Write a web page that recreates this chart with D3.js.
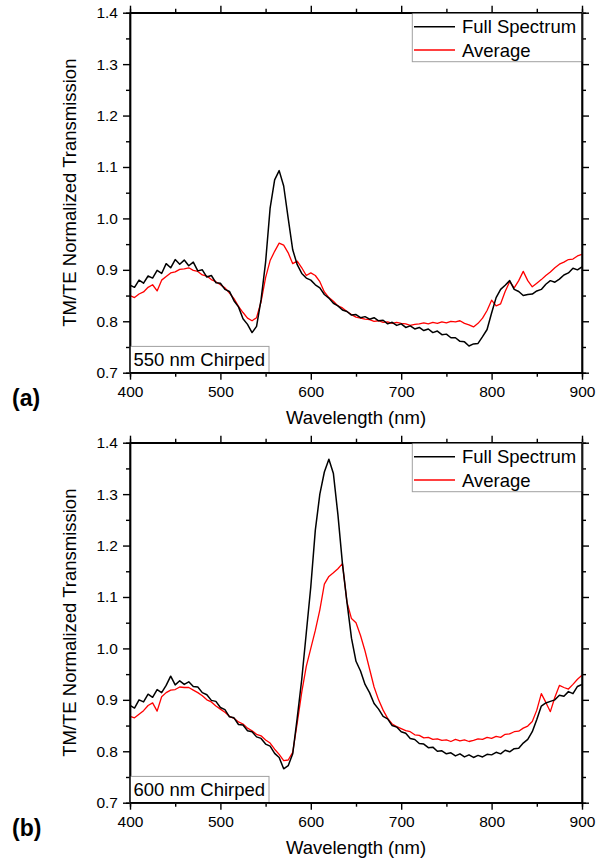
<!DOCTYPE html>
<html>
<head>
<meta charset="utf-8">
<script src="https://cdn.jsdelivr.net/npm/d3@7"></script>
<style>
  html, body { margin: 0; padding: 0; background: #fff; }
  svg { display: block; font-family: "Liberation Sans", Arial, sans-serif; }
</style>
</head>
<body>
<svg id="chart" width="597" height="863"></svg>
<script>
// Wavelength grid shared by every series (nm, 5 nm step)
const wavelengths = d3.range(400, 901, 5);

// Panel (a): 550 nm chirped grating
const fullSpectrumA = [
  0.870, 0.866, 0.880, 0.874, 0.888, 0.884, 0.899, 0.893, 0.912, 0.904,
  0.920, 0.911, 0.919, 0.908, 0.915, 0.898, 0.900, 0.886, 0.889, 0.875,
  0.874, 0.862, 0.858, 0.840, 0.828, 0.805, 0.794, 0.778, 0.790, 0.842,
  0.915, 1.020, 1.075, 1.093, 1.063, 1.000, 0.939, 0.910, 0.893, 0.884,
  0.880, 0.871, 0.865, 0.852, 0.845, 0.835, 0.830, 0.822, 0.819, 0.812,
  0.813, 0.807, 0.809, 0.804, 0.807, 0.801, 0.802, 0.795, 0.798, 0.792,
  0.795, 0.788, 0.791, 0.785, 0.788, 0.782, 0.785, 0.778, 0.781, 0.774,
  0.775, 0.768, 0.768, 0.761, 0.760, 0.752, 0.756, 0.757, 0.770, 0.784,
  0.816, 0.846, 0.862, 0.870, 0.879, 0.862, 0.858, 0.850, 0.852, 0.853,
  0.859, 0.862, 0.872, 0.879, 0.876, 0.882, 0.890, 0.894, 0.903, 0.900,
  0.906
];
const averageA = [
  0.850, 0.846, 0.853, 0.857, 0.866, 0.871, 0.859, 0.880, 0.887, 0.894,
  0.896, 0.901, 0.902, 0.904, 0.899, 0.897, 0.890, 0.888, 0.881, 0.877,
  0.871, 0.865, 0.855, 0.844, 0.829, 0.817, 0.806, 0.801, 0.807, 0.838,
  0.885, 0.918, 0.936, 0.952, 0.948, 0.933, 0.912, 0.917, 0.904, 0.889,
  0.894, 0.889, 0.877, 0.857, 0.846, 0.839, 0.830, 0.826, 0.819, 0.813,
  0.808, 0.806, 0.804, 0.803, 0.800, 0.801, 0.798, 0.799, 0.796, 0.798,
  0.796, 0.795, 0.792, 0.794, 0.795, 0.797, 0.795, 0.798, 0.796, 0.799,
  0.797, 0.800, 0.799, 0.801, 0.796, 0.793, 0.789, 0.796, 0.806, 0.821,
  0.841, 0.830, 0.834, 0.858, 0.877, 0.865, 0.879, 0.897, 0.879, 0.867,
  0.874, 0.881, 0.889, 0.896, 0.904, 0.911, 0.915, 0.920, 0.921, 0.927,
  0.930
];

// Panel (b): 600 nm chirped grating
const fullSpectrumB = [
  0.889, 0.884, 0.900, 0.896, 0.911, 0.905, 0.920, 0.914, 0.928, 0.946,
  0.929, 0.937, 0.930, 0.935, 0.926, 0.925, 0.914, 0.910, 0.899, 0.897,
  0.885, 0.881, 0.867, 0.865, 0.852, 0.851, 0.840, 0.838, 0.828, 0.825,
  0.814, 0.810, 0.796, 0.788, 0.766, 0.772, 0.795, 0.865, 0.940, 1.030,
  1.120, 1.230, 1.300, 1.343, 1.368, 1.340, 1.260, 1.165, 1.090, 1.020,
  0.975, 0.956, 0.930, 0.914, 0.893, 0.882, 0.868, 0.863, 0.850, 0.847,
  0.838, 0.835, 0.825, 0.823, 0.815, 0.814, 0.807, 0.808, 0.800, 0.801,
  0.795, 0.797, 0.791, 0.795, 0.789, 0.793, 0.788, 0.792, 0.789, 0.794,
  0.793, 0.798, 0.795, 0.802, 0.799, 0.805, 0.806, 0.816, 0.823, 0.838,
  0.862, 0.888, 0.894, 0.897, 0.900, 0.909, 0.907, 0.916, 0.912, 0.926,
  0.930
];
const averageB = [
  0.868, 0.865, 0.872, 0.879, 0.889, 0.894, 0.878, 0.906, 0.914, 0.919,
  0.920, 0.925, 0.924, 0.924, 0.919, 0.914, 0.908, 0.900, 0.896, 0.888,
  0.882, 0.876, 0.868, 0.864, 0.857, 0.853, 0.845, 0.840, 0.833, 0.830,
  0.822, 0.816, 0.804, 0.794, 0.782, 0.783, 0.798, 0.855, 0.915, 0.965,
  1.000, 1.035, 1.075, 1.125, 1.140, 1.147, 1.155, 1.165, 1.090, 1.058,
  1.050, 1.025, 0.995, 0.960, 0.925, 0.900, 0.880, 0.864, 0.853, 0.848,
  0.844, 0.840, 0.838, 0.832, 0.831, 0.826, 0.827, 0.823, 0.824, 0.821,
  0.822, 0.819, 0.823, 0.820, 0.822, 0.819, 0.821, 0.824, 0.823, 0.827,
  0.825, 0.829, 0.827, 0.833, 0.834, 0.838, 0.839, 0.845, 0.849, 0.858,
  0.880, 0.912, 0.895, 0.877, 0.905, 0.928, 0.924, 0.921, 0.930, 0.940,
  0.948
];

// Axis ticks and labels
const xMajorTicks = [400, 500, 600, 700, 800, 900];
const xMinorTicks = [450, 550, 650, 750, 850];
const yMajorTicks = [0.7, 0.8, 0.9, 1.0, 1.1, 1.2, 1.3, 1.4];
const yMinorTicks = [0.75, 0.85, 0.95, 1.05, 1.15, 1.25, 1.35];
const seriesNames = ["Full Spectrum", "Average"];
const seriesColors = ["#000000", "#ff0000"];
const panelLetters = ["(a)", "(b)"];
const panelNotes = ["550 nm Chirped", "600 nm Chirped"];
const xTitle = "Wavelength (nm)";
const yTitle = "TM/TE Normalized Transmission";

const svg = d3.select("#chart");
const left = 130, right = 582;
const panelTops = [12.7, 442.7];
const plotH = 360;

const x = d3.scaleLinear().domain([400, 900]).range([left, right]);

const panels = [
  { full: fullSpectrumA, avg: averageA },
  { full: fullSpectrumB, avg: averageB }
];

function styleAxis(g) {
  g.select(".domain").attr("stroke", "#000").attr("stroke-width", 1.4);
  g.selectAll(".tick line").attr("stroke", "#000").attr("stroke-width", 1.4);
  g.selectAll(".tick text")
    .attr("fill", "#000")
    .style("font-size", "15.5px")
    .style("font-family", "'Liberation Sans', Arial, sans-serif");
}

panels.forEach((p, i) => {
  const top = panelTops[i], bottom = top + plotH;
  const y = d3.scaleLinear().domain([0.7, 1.4]).range([bottom, top]);
  const g = svg.append("g");

  const clipId = "clip" + i;
  g.append("clipPath").attr("id", clipId)
    .append("rect").attr("x", left).attr("y", top)
    .attr("width", right - left).attr("height", plotH);

  const line = d3.line()
    .x((d, k) => x(wavelengths[k]))
    .y(d => y(d));

  const curves = g.append("g").attr("clip-path", `url(#${clipId})`);
  curves.append("path").datum(p.avg)
    .attr("fill", "none").attr("stroke", seriesColors[1])
    .attr("stroke-width", 1.3).attr("stroke-linejoin", "round")
    .attr("d", line);
  curves.append("path").datum(p.full)
    .attr("fill", "none").attr("stroke", seriesColors[0])
    .attr("stroke-width", 1.5).attr("stroke-linejoin", "round")
    .attr("d", line);

  // minor ticks
  g.append("g").attr("transform", `translate(0,${bottom})`)
    .call(d3.axisBottom(x).tickValues(xMinorTicks).tickSize(4).tickFormat(""))
    .call(styleAxis);
  g.append("g").attr("transform", `translate(0,${top})`)
    .call(d3.axisTop(x).tickValues(xMinorTicks).tickSize(4).tickFormat(""))
    .call(styleAxis);
  g.append("g").attr("transform", `translate(${left},0)`)
    .call(d3.axisLeft(y).tickValues(yMinorTicks).tickSize(4).tickFormat(""))
    .call(styleAxis);
  g.append("g").attr("transform", `translate(${right},0)`)
    .call(d3.axisRight(y).tickValues(yMinorTicks).tickSize(4).tickFormat(""))
    .call(styleAxis);

  // major ticks
  g.append("g").attr("transform", `translate(0,${bottom})`)
    .call(d3.axisBottom(x).tickValues(xMajorTicks).tickSize(7).tickSizeOuter(0).tickPadding(6).tickFormat(d3.format("d")))
    .call(styleAxis);
  g.append("g").attr("transform", `translate(0,${top})`)
    .call(d3.axisTop(x).tickValues(xMajorTicks).tickSize(7).tickSizeOuter(0).tickFormat(""))
    .call(styleAxis);
  g.append("g").attr("transform", `translate(${left},0)`)
    .call(d3.axisLeft(y).tickValues(yMajorTicks).tickSize(7).tickSizeOuter(0).tickPadding(5).tickFormat(d3.format(".1f")))
    .call(styleAxis);
  g.append("g").attr("transform", `translate(${right},0)`)
    .call(d3.axisRight(y).tickValues(yMajorTicks).tickSize(7).tickSizeOuter(0).tickFormat(""))
    .call(styleAxis);

  // legend
  const lx = 412.3, lw = right - lx, lh = 49;
  g.append("rect").attr("x", lx).attr("y", top).attr("width", lw).attr("height", lh)
    .attr("fill", "#fff").attr("stroke", "#a0a0a0").attr("stroke-width", 1);
  seriesNames.forEach((name, k) => {
    const ly = top + 14 + k * 23.3;
    g.append("line").attr("x1", 414).attr("x2", 455).attr("y1", ly).attr("y2", ly)
      .attr("stroke", seriesColors[k]).attr("stroke-width", 1.4);
    g.append("text").attr("x", 462).attr("y", ly).attr("dy", "0.36em")
      .style("font-size", "18.5px").attr("fill", "#000").text(name);
  });

  // sample note box
  g.append("rect").attr("x", left).attr("y", bottom - 26.3)
    .attr("width", 269 - left).attr("height", 26.3)
    .attr("fill", "#fff").attr("stroke", "#a0a0a0").attr("stroke-width", 1);
  g.append("text").attr("x", 133.5).attr("y", bottom - 6.5)
    .style("font-size", "18.5px").attr("fill", "#000").text(panelNotes[i]);

  // redraw the frame edges over the boxes
  g.append("line").attr("x1", left).attr("x2", left).attr("y1", top).attr("y2", bottom)
    .attr("stroke", "#000").attr("stroke-width", 1.4);
  g.append("line").attr("x1", left).attr("x2", right).attr("y1", bottom).attr("y2", bottom)
    .attr("stroke", "#000").attr("stroke-width", 1.4);
  g.append("line").attr("x1", right).attr("x2", right).attr("y1", top).attr("y2", bottom)
    .attr("stroke", "#000").attr("stroke-width", 1.4);
  g.append("line").attr("x1", left).attr("x2", right).attr("y1", top).attr("y2", top)
    .attr("stroke", "#000").attr("stroke-width", 1.4);

  // axis titles and panel letter
  g.append("text").attr("x", (left + right) / 2).attr("y", bottom + 51)
    .attr("text-anchor", "middle").style("font-size", "18.5px").attr("fill", "#000")
    .text(xTitle);
  g.append("text")
    .attr("transform", `translate(76,${(top + bottom) / 2}) rotate(-90)`)
    .attr("text-anchor", "middle").style("font-size", "18.5px").attr("fill", "#000")
    .text(yTitle);
  g.append("text").attr("x", 12).attr("y", bottom + 33)
    .style("font-size", "23px").style("font-weight", "bold").attr("fill", "#000")
    .text(panelLetters[i]);
});
</script>
</body>
</html>
